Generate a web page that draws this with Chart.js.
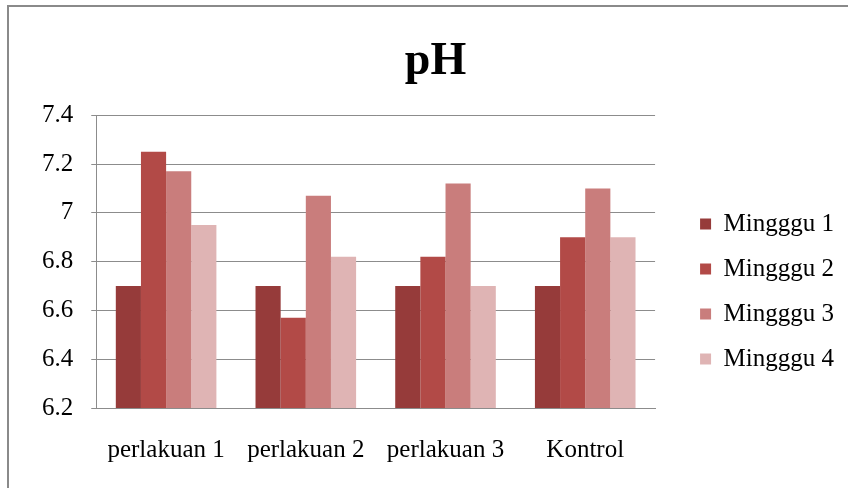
<!DOCTYPE html>
<html>
<head>
<meta charset="utf-8">
<script src="https://cdn.jsdelivr.net/npm/chart.js@4.4.1/dist/chart.umd.min.js"></script>
<style>
  html, body { margin: 0; padding: 0; background: #fff; overflow: hidden; }
  #wrap { position: relative; width: 848px; height: 488px; }
  #frame { position: absolute; left: 7px; top: 5px; width: 900px; height: 600px;
           border-left: 2px solid #8a8a8a; border-top: 2px solid #8a8a8a; pointer-events: none; }
  canvas { position: absolute; left: 0; top: 0; }
</style>
</head>
<body>
<div id="wrap">
  <canvas id="phChart" width="848" height="488"></canvas>
  <div id="frame"></div>
</div>
<script>
const categories = ['perlakuan 1', 'perlakuan 2', 'perlakuan 3', 'Kontrol'];
const minggu1 = [6.7, 6.7, 6.7, 6.7];
const minggu2 = [7.25, 6.57, 6.82, 6.9];
const minggu3 = [7.17, 7.07, 7.12, 7.1];
const minggu4 = [6.95, 6.82, 6.7, 6.9];
const seriesNames = ['Mingggu 1', 'Mingggu 2', 'Mingggu 3', 'Mingggu 4'];
const colors = ['#963b3a', '#b24a47', '#c97d7c', '#dfb4b4'];

const serif = '"Liberation Serif", "Times New Roman", serif';

// push legend right/down and title a little right, like the Excel original
const boxShift = {
    id: 'boxShift',
    afterLayout(chart) {
        const lg = chart.legend;
        lg.left += 25; lg.right += 25;
        lg.top += 43; lg.bottom += 43;
        const t = chart.titleBlock;
        if (t) { t.left += 14; t.right += 14; }
    }
};

function draw() {
    const ctx = document.getElementById('phChart').getContext('2d');

    new Chart(ctx, {
        type: 'bar',
        data: {
            labels: categories,
            datasets: [minggu1, minggu2, minggu3, minggu4].map((vals, i) => ({
                label: seriesNames[i],
                data: vals,
                backgroundColor: colors[i],
                borderWidth: 0,
                categoryPercentage: 0.72,
                barPercentage: 1.0
            }))
        },
        plugins: [boxShift],
        options: {
            responsive: false,
            animation: false,
            layout: { padding: { left: 24, right: 29, top: 13, bottom: 4 } },
            plugins: {
                title: {
                    display: true,
                    text: 'pH',
                    color: '#000',
                    font: { family: serif, size: 46, weight: 'bold' },
                    padding: { top: 22, bottom: 25 }
                },
                legend: {
                    position: 'right',
                    align: 'center',
                    labels: {
                        color: '#000',
                        font: { family: serif, size: 25 },
                        boxWidth: 11,
                        boxHeight: 11,
                        padding: 20
                    }
                },
                tooltip: { enabled: false }
            },
            scales: {
                x: {
                    grid: { display: false },
                    border: { color: '#8c8c8c', width: 1 },
                    ticks: { color: '#000', font: { family: serif, size: 25 }, padding: 19, maxRotation: 0 }
                },
                y: {
                    min: 6.2,
                    max: 7.4,
                    grid: { color: '#8c8c8c', lineWidth: 1, tickLength: 5 },
                    border: { color: '#8c8c8c', width: 1 },
                    ticks: {
                        stepSize: 0.2,
                        color: '#000',
                        font: { family: serif, size: 25 },
                        padding: 18,
                        callback: v => String(Number(v.toFixed(1)))
                    }
                }
            }
        }
    });
}

document.addEventListener("DOMContentLoaded", function () {
    Promise.all([
        document.fonts.load('25px "Liberation Serif"'),
        document.fonts.load('bold 46px "Liberation Serif"')
    ]).then(draw, draw);
});
</script>
</body>
</html>
